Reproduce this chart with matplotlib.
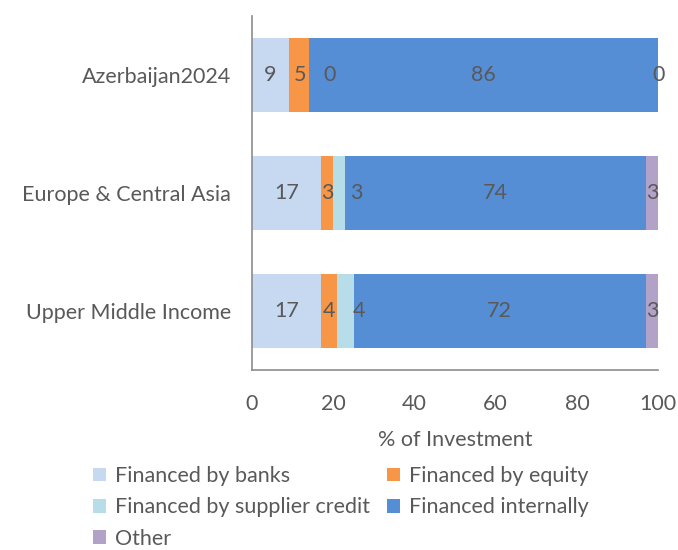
import matplotlib
matplotlib.use("Agg")
import matplotlib.pyplot as plt
import numpy as np

plt.rcParams['font.family'] = ['Lato', 'DejaVu Sans']

categories = ["Azerbaijan2024", "Europe & Central Asia", "Upper Middle Income"]
series_names = ["Financed by banks", "Financed by equity", "Financed by supplier credit",
                "Financed internally", "Other"]
banks = [9, 17, 17]
equity = [5, 3, 4]
supplier = [0, 3, 4]
internal = [86, 74, 72]
other = [0, 3, 3]
values = [banks, equity, supplier, internal, other]
colors = ["#c6d9f0", "#f79646", "#b7dee8", "#558ed5", "#b3a2c7"]
txt = "#595959"
fs = 15.5

fig = plt.figure(figsize=(6.78, 5.5), dpi=100)
ax = fig.add_axes([0.3717, 0.327, 0.599, 0.644])

y = np.arange(len(categories))
left = np.zeros(len(categories))
prev_lab = np.full(len(categories), -100.0)
handles = []
for name, vals, c in zip(series_names, values, colors):
    vals = np.array(vals, dtype=float)
    h = ax.barh(y, vals, left=left, height=0.63, color=c, label=name)
    handles.append(h)
    for i in range(len(categories)):
        xc = left[i] + vals[i] / 2
        # Excel nudges a label to the right when it would collide with the previous one
        if xc - prev_lab[i] < 7.3:
            xc = prev_lab[i] + 7.3
        ax.text(xc, y[i], "%d" % vals[i], ha="center", va="center", fontsize=fs, color=txt)
        prev_lab[i] = xc
    left += vals

ax.set_ylim(2.5, -0.5)
ax.set_xlim(0, 100)
ax.set_yticks(y)
ax.set_yticklabels(categories)
ax.set_xticks([0, 20, 40, 60, 80, 100])
ax.tick_params(axis="both", length=0, labelsize=fs, labelcolor=txt)
ax.tick_params(axis="y", pad=15)
ax.tick_params(axis="x", pad=17)
ax.set_xlabel("% of Investment", fontsize=fs, color=txt, labelpad=12)
for s in ["top", "right"]:
    ax.spines[s].set_visible(False)
for s in ["left", "bottom"]:
    ax.spines[s].set_color("#8c8c8c")
    ax.spines[s].set_linewidth(1.2)

# row-major order like Excel
order = [0, 2, 4, 1, 3]
fig.legend([handles[k] for k in order], [series_names[k] for k in order],
           loc="upper left", bbox_to_anchor=(0.125, 0.168), ncol=2, frameon=False,
           fontsize=fs, labelcolor=txt, handlelength=0.6, handleheight=0.6,
           handletextpad=0.4, columnspacing=0.8, labelspacing=0.52, borderaxespad=0)

fig.savefig("out.png", dpi=100)
